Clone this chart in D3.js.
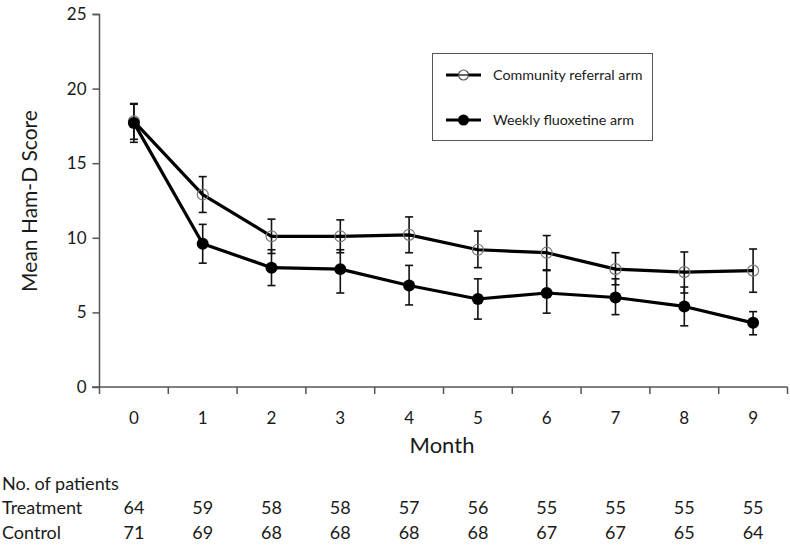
<!DOCTYPE html>
<html><head><meta charset="utf-8">
<script src="https://cdn.jsdelivr.net/npm/d3@7"></script>
<style>body{margin:0;background:#fff}svg{display:block}text{font-family:Lato,"Open Sans",sans-serif;fill:#1a1a1a}</style>
</head><body><svg id="c" width="790" height="545"></svg>
<script>
const months = [0,1,2,3,4,5,6,7,8,9];
const yTicks = [0,5,10,15,20,25];
const communityMean = [17.8,12.9,10.1,10.1,10.2,9.2,9.0,7.9,7.7,7.8];
const communityUpper = [19.0,14.1,11.25,11.2,11.4,10.45,10.15,9.0,9.05,9.25];
const communityLower = [16.6,11.7,8.95,9.0,9.0,8.0,7.8,6.85,6.3,6.35];
const fluoxMean = [17.7,9.6,8.0,7.9,6.8,5.9,6.3,6.0,5.4,4.3];
const fluoxUpper = [18.95,10.9,9.2,9.2,8.15,7.25,7.85,7.25,6.7,5.05];
const fluoxLower = [16.4,8.3,6.8,6.3,5.5,4.55,4.95,4.85,4.1,3.5];
const treatmentN = [64,59,58,58,57,56,55,55,55,55];
const controlN = [71,69,68,68,68,68,67,67,65,64];
const seriesNames = ["Community referral arm","Weekly fluoxetine arm"];

const svg = d3.select("#c");
const x = d3.scaleBand().domain(months).range([99.5,787.5]);
const y = d3.scaleLinear().domain([0,25]).range([387,14]);
const cx = d => x(d) + x.bandwidth()/2;

// y axis
const yAx = svg.append("g").attr("transform","translate(99.5,0)")
  .call(d3.axisLeft(y).tickValues(yTicks).tickSize(7).tickPadding(6).tickFormat(d3.format("d")));
yAx.select(".domain").attr("stroke","#555").attr("stroke-width",1.5).attr("d","M-7,14.5H0V387");
yAx.selectAll(".tick line").attr("stroke","#555").attr("stroke-width",1.5);
yAx.selectAll("text").attr("font-size",17).style("font-family","Lato,sans-serif").attr("fill","#1a1a1a");
// x axis
const xAx = svg.append("g").attr("transform","translate(0,387)")
  .call(d3.axisBottom(x).tickSize(0).tickFormat(""));
xAx.select(".domain").remove();
const edges = months.map(m=>x(m)).concat([x(9)+x.bandwidth()]);
svg.append("g").selectAll("line").data(edges).join("line")
  .attr("x1",d=>d).attr("x2",d=>d).attr("y1",387).attr("y2",394)
  .attr("stroke","#555").attr("stroke-width",1.5);
svg.append("line").attr("x1",92).attr("x2",787.5).attr("y1",387).attr("y2",387).attr("stroke","#555").attr("stroke-width",1.5);
svg.append("g").selectAll("text").data(months).join("text")
  .attr("x",d=>cx(d)).attr("y",424).attr("text-anchor","middle").attr("font-size",17).text(d=>d);

// axis titles
svg.append("text").attr("transform","translate(37,201) rotate(-90)").attr("text-anchor","middle")
  .attr("font-size",21).text("Mean Ham-D Score");
svg.append("text").attr("x",442).attr("y",453).attr("text-anchor","middle").attr("font-size",22).text("Month");

// error bars
function errBars(up, lo){
  const g = svg.append("g");
  months.forEach((m,i)=>{
    const X = cx(m);
    g.append("line").attr("x1",X).attr("x2",X).attr("y1",y(up[i])).attr("y2",y(lo[i])).attr("stroke","#111").attr("stroke-width",1.6);
    [up[i],lo[i]].forEach(v=>g.append("line").attr("x1",X-4).attr("x2",X+4).attr("y1",y(v)).attr("y2",y(v)).attr("stroke","#111").attr("stroke-width",1.6));
  });
}
errBars(communityUpper, communityLower);
errBars(fluoxUpper, fluoxLower);

const line = d3.line().x((d,i)=>cx(months[i])).y(d=>y(d));
svg.append("path").datum(communityMean).attr("d",line).attr("fill","none").attr("stroke","#000").attr("stroke-width",3.2).attr("stroke-linejoin","round");
svg.append("path").datum(fluoxMean).attr("d",line).attr("fill","none").attr("stroke","#000").attr("stroke-width",3.2).attr("stroke-linejoin","round");

svg.append("g").selectAll("circle").data(communityMean).join("circle")
  .attr("cx",(d,i)=>cx(months[i])).attr("cy",d=>y(d)).attr("r",5.5)
  .attr("fill","none").attr("stroke","#777").attr("stroke-width",1.2);
svg.append("g").selectAll("circle").data(fluoxMean).join("circle")
  .attr("cx",(d,i)=>cx(months[i])).attr("cy",d=>y(d)).attr("r",6).attr("fill","#000");

// legend
const lg = svg.append("g");
lg.append("rect").attr("x",432.5).attr("y",53.5).attr("width",220).attr("height",87)
  .attr("fill","none").attr("stroke","#555").attr("stroke-width",1);
[75,120].forEach((ly,k)=>{
  lg.append("line").attr("x1",446).attr("x2",481).attr("y1",ly).attr("y2",ly).attr("stroke","#000").attr("stroke-width",3);
  if(k===0) lg.append("circle").attr("cx",463.5).attr("cy",ly).attr("r",5).attr("fill","#fff").attr("stroke","#555").attr("stroke-width",1.2);
  else lg.append("circle").attr("cx",463.5).attr("cy",ly).attr("r",5.5).attr("fill","#000");
  if(k===0) lg.append("line").attr("x1",458.5).attr("x2",468.5).attr("y1",ly).attr("y2",ly).attr("stroke","#000").attr("stroke-width",1.2);
  lg.append("text").attr("x",493).attr("y",ly+5).attr("font-size",14.3).text(seriesNames[k]);
});

// patient table
svg.append("text").attr("x",2).attr("y",490).attr("font-size",18).text("No. of patients");
svg.append("text").attr("x",2).attr("y",514).attr("font-size",18).text("Treatment");
svg.append("text").attr("x",2).attr("y",539).attr("font-size",18).text("Control");
svg.append("g").selectAll("text").data(treatmentN).join("text")
  .attr("x",(d,i)=>cx(months[i])).attr("y",514).attr("text-anchor","middle").attr("font-size",18).text(d=>d);
svg.append("g").selectAll("text").data(controlN).join("text")
  .attr("x",(d,i)=>cx(months[i])).attr("y",539).attr("text-anchor","middle").attr("font-size",18).text(d=>d);
</script></body></html>
